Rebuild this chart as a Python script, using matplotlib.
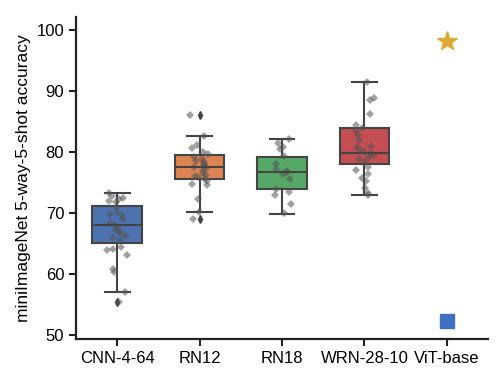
import numpy as np
import matplotlib
matplotlib.use('Agg')
import matplotlib.pyplot as plt

plt.rcParams['font.family'] = ['Liberation Sans', 'DejaVu Sans']

# model names on the x axis
models = ['CNN-4-64', 'RN12', 'RN18', 'WRN-28-10', 'ViT-base']
box_colors = ['#4C72B0', '#DD8452', '#55A868', '#C44E52']

# box statistics (first four models)
q1 = [65.0, 75.6, 73.9, 78.0]
med = [68.0, 77.5, 76.7, 79.9]
q3 = [71.2, 79.5, 79.2, 84.0]
whislo = [57.0, 70.1, 69.8, 73.0]
whishi = [73.2, 82.7, 82.2, 91.5]
fliers = [[55.3], [86.0, 69.0], [], []]

# individual runs (strip points)
cnn_pts = [73.2, 72.8, 72.5, 72.2, 72.0, 71.7, 70.1, 69.8, 69.6, 68.3, 68.0,
           67.5, 67.2, 66.8, 66.5, 66.2, 65.9, 65.6, 64.4, 64.0, 63.9, 63.1,
           60.7, 60.2, 57.0, 55.3, 71.0, 69.0]
rn12_pts = [86.0, 82.7, 81.2, 80.7, 80.0, 79.6, 79.2, 78.9, 78.5, 78.0, 77.8,
            77.5, 77.3, 77.0, 76.6, 76.2, 75.9, 75.5, 75.2, 74.8, 74.5, 72.3,
            70.1, 69.0, 78.4, 76.0]
rn18_pts = [82.2, 81.5, 80.8, 80.5, 79.3, 78.0, 77.2, 76.9, 76.7, 76.4, 75.5,
            73.9, 73.5, 72.9, 71.4, 70.0]
wrn_pts = [91.5, 88.9, 88.5, 86.2, 84.5, 84.0, 83.4, 82.8, 82.0, 81.0, 80.8,
           80.3, 80.0, 79.8, 79.5, 79.2, 78.9, 78.5, 77.6, 77.0, 76.4, 75.8,
           75.2, 73.3, 73.0, 74.0]
strip_data = [cnn_pts, rn12_pts, rn18_pts, wrn_pts]

vit_star = 98.2
vit_square = 52.3

fig = plt.figure(figsize=(5, 3.74), dpi=100)
ax = fig.add_axes([0.152, 0.094, 0.824, 0.861])

stats = []
for i in range(4):
    stats.append(dict(med=med[i], q1=q1[i], q3=q3[i], whislo=whislo[i],
                      whishi=whishi[i], fliers=fliers[i]))

dark = '#444444'
bp = ax.bxp(stats, positions=range(4), widths=0.6, patch_artist=True,
            boxprops=dict(edgecolor=dark, linewidth=1.5),
            medianprops=dict(color=dark, linewidth=1.5),
            whiskerprops=dict(color=dark, linewidth=1.5),
            capprops=dict(color=dark, linewidth=1.5),
            flierprops=dict(marker='d', markerfacecolor=dark,
                            markeredgecolor=dark, markersize=4))
for patch, c in zip(bp['boxes'], box_colors):
    patch.set_facecolor(c)

# jittered strip points
rng = np.random.default_rng(3)
for i, pts in enumerate(strip_data):
    xs = i + rng.uniform(-0.12, 0.12, len(pts))
    ax.plot(xs, pts, linestyle='none', marker='D', markersize=3.8,
            color='#555555', alpha=0.55, markeredgewidth=0)

ax.plot([4], [vit_star], marker='*', markersize=15, color='#DDA932',
        linestyle='none')
ax.plot([4], [vit_square], marker='s', markersize=9.5, color='#3F6EC2',
        linestyle='none')

ax.set_xlim(-0.5, 4.5)
ax.set_ylim(49.3, 102.2)
ax.set_yticks([50, 60, 70, 80, 90, 100])
ax.set_xticks(range(5))
ax.set_xticklabels(models)
ax.set_ylabel('miniImageNet 5-way-5-shot accuracy', fontsize=12.5)
ax.tick_params(labelsize=12, width=1.5, length=5, color='#222222')
for s in ['top', 'right']:
    ax.spines[s].set_visible(False)
for s in ['left', 'bottom']:
    ax.spines[s].set_linewidth(1.6)
    ax.spines[s].set_color('#222222')

fig.savefig('out.png', dpi=100)
